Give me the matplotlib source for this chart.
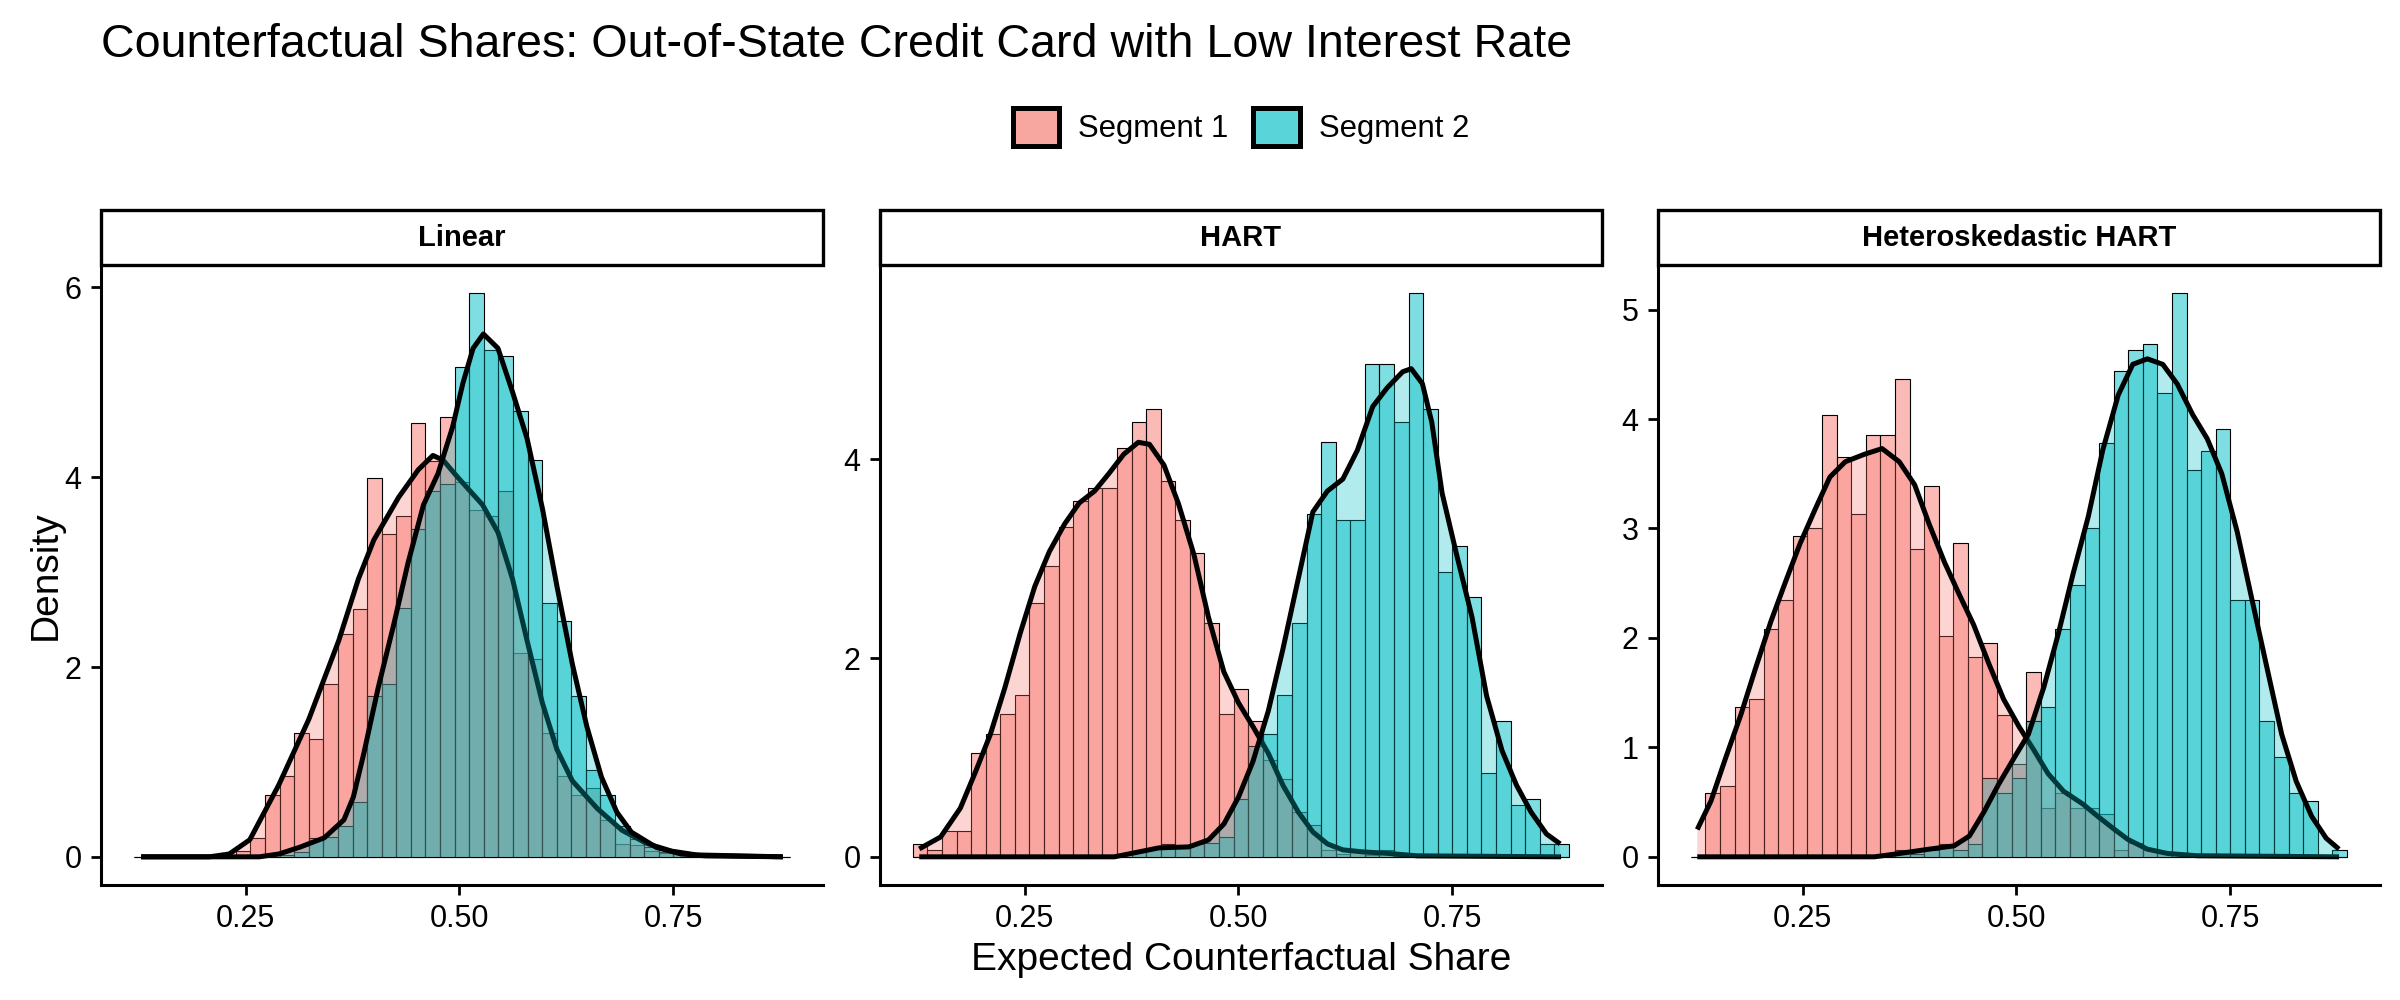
import numpy as np
import matplotlib.pyplot as plt
from matplotlib.patches import Rectangle, Patch
from matplotlib.colors import to_rgba

plt.rcParams['font.family'] = ['Liberation Sans', 'DejaVu Sans']

# histogram bins (shared x scale in all facets)
bin_start = 0.1195
bin_width = 0.01704
n_bins = 45

panels = ['Linear', 'HART', 'Heteroskedastic HART']
segments = ['Segment 1', 'Segment 2']

# bar heights (density) per bin
linear_seg1 = [0, 0, 0, 0, 0, 0, 0.02, 0.06, 0.2, 0.65, 0.85, 1.31, 1.24, 1.82, 2.35,
               2.61, 3.99, 3.40, 3.59, 4.57, 4.17, 4.63, 3.95, 3.66, 3.59, 3.85, 2.15,
               2.09, 1.31, 0.85, 0.65, 0.72, 0.39, 0.14, 0.12, 0.06, 0.04, 0.05, 0.02,
               0, 0, 0, 0, 0, 0]
linear_seg2 = [0, 0, 0, 0, 0, 0, 0, 0, 0, 0, 0.02, 0.05, 0.2, 0.21, 0.32, 0.58, 1.69,
               1.82, 2.62, 3.46, 3.86, 3.93, 5.16, 5.94, 5.34, 5.28, 4.70, 4.18, 2.68,
               2.48, 1.69, 0.91, 0.65, 0.32, 0.19, 0.1, 0.05, 0.03, 0.01, 0, 0, 0, 0, 0, 0]

hart_seg1 = [0.125, 0.07, 0.26, 0.26, 1.04, 1.24, 1.44, 1.63, 2.55, 2.93, 3.32, 3.58,
             3.71, 3.71, 4.11, 4.37, 4.50, 3.78, 3.39, 3.06, 2.35, 1.44, 1.69, 1.37,
             0.97, 0.78, 0.45, 0.32, 0.07, 0.03, 0.07, 0.02, 0.07, 0.01, 0, 0, 0, 0,
             0, 0, 0, 0, 0, 0, 0]
hart_seg2 = [0, 0, 0, 0, 0, 0, 0, 0, 0, 0, 0, 0, 0, 0, 0, 0.05, 0.08, 0.125, 0.09,
             0.125, 0.14, 0.2, 0.58, 1.11, 1.24, 1.63, 2.35, 3.45, 4.17, 3.39, 3.39,
             4.96, 4.96, 4.37, 5.67, 4.50, 2.87, 3.13, 2.61, 0.84, 1.37, 0.52, 0.58,
             0.125, 0.125]

hetero_seg1 = [0, 0.58, 0.65, 1.37, 1.44, 2.08, 2.35, 2.93, 3.0, 4.04, 3.65, 3.13, 3.85,
               3.85, 4.37, 2.81, 3.39, 2.02, 2.87, 1.83, 1.95, 1.30, 0.85, 1.69, 0.45,
               0.58, 0.45, 0.45, 0.39, 0.06, 0.13, 0.06, 0.04, 0, 0, 0, 0, 0, 0, 0, 0,
               0, 0, 0, 0]
hetero_seg2 = [0, 0, 0, 0, 0, 0, 0, 0, 0, 0, 0, 0, 0.02, 0.02, 0.06, 0.03, 0.06, 0.12,
               0.06, 0.12, 0.72, 0.58, 0.72, 1.24, 1.37, 2.08, 2.48, 3.0, 3.78, 4.44,
               4.63, 4.69, 4.24, 5.15, 3.53, 3.71, 3.91, 2.35, 2.35, 1.24, 0.91, 0.58,
               0.51, 0, 0.06]

# density curves (x, y)
linear_dens1_x = [0.128, 0.208, 0.231, 0.255, 0.289, 0.324, 0.359, 0.382, 0.400, 0.429,
                  0.452, 0.469, 0.481, 0.498, 0.527, 0.545, 0.562, 0.579, 0.597, 0.614,
                  0.632, 0.661, 0.690, 0.719, 0.748, 0.777, 0.878]
linear_dens1_y = [0, 0, 0.03, 0.18, 0.76, 1.45, 2.28, 2.93, 3.34, 3.79, 4.08, 4.23, 4.18,
                  4.0, 3.71, 3.42, 2.93, 2.28, 1.62, 1.13, 0.80, 0.51, 0.28, 0.14, 0.06,
                  0.02, 0]
linear_dens2_x = [0.128, 0.266, 0.289, 0.313, 0.342, 0.365, 0.376, 0.388, 0.405, 0.423,
                  0.440, 0.458, 0.475, 0.492, 0.504, 0.516, 0.528, 0.545, 0.562, 0.579,
                  0.597, 0.614, 0.632, 0.649, 0.666, 0.684, 0.701, 0.730, 0.759, 0.788,
                  0.878]
linear_dens2_y = [0, 0, 0.03, 0.10, 0.20, 0.39, 0.63, 1.08, 1.78, 2.44, 3.10, 3.71, 4.04,
                  4.53, 4.99, 5.36, 5.51, 5.36, 4.90, 4.41, 3.67, 2.85, 2.03, 1.37, 0.84,
                  0.47, 0.26, 0.10, 0.03, 0.01, 0]

hart_dens1_x = [0.127, 0.152, 0.175, 0.192, 0.210, 0.227, 0.245, 0.262, 0.279, 0.297,
                0.314, 0.332, 0.349, 0.366, 0.383, 0.396, 0.413, 0.430, 0.448, 0.465,
                0.483, 0.500, 0.517, 0.535, 0.552, 0.570, 0.587, 0.604, 0.622, 0.645,
                0.674, 0.709, 0.877]
hart_dens1_y = [0.08, 0.20, 0.49, 0.84, 1.23, 1.70, 2.25, 2.72, 3.07, 3.35, 3.56, 3.68,
                3.86, 4.05, 4.17, 4.15, 3.94, 3.55, 3.04, 2.41, 1.86, 1.55, 1.31, 1.04,
                0.72, 0.45, 0.25, 0.13, 0.07, 0.05, 0.035, 0.01, 0]
hart_dens2_x = [0.127, 0.355, 0.384, 0.407, 0.442, 0.465, 0.483, 0.500, 0.517, 0.535,
                0.552, 0.570, 0.587, 0.604, 0.622, 0.639, 0.657, 0.674, 0.692, 0.702,
                0.715, 0.726, 0.738, 0.755, 0.773, 0.790, 0.808, 0.825, 0.842, 0.860,
                0.876]
hart_dens2_y = [0, 0, 0.05, 0.09, 0.10, 0.17, 0.33, 0.60, 0.96, 1.47, 2.09, 2.80, 3.47,
                3.68, 3.80, 4.09, 4.53, 4.72, 4.88, 4.91, 4.76, 4.37, 3.66, 3.04, 2.41,
                1.62, 1.07, 0.72, 0.45, 0.23, 0.13]

hetero_dens1_x = [0.127, 0.143, 0.160, 0.178, 0.195, 0.213, 0.230, 0.247, 0.265, 0.282,
                  0.300, 0.323, 0.343, 0.363, 0.381, 0.398, 0.416, 0.433, 0.450, 0.468,
                  0.485, 0.503, 0.520, 0.537, 0.555, 0.578, 0.595, 0.613, 0.630, 0.653,
                  0.677, 0.711, 0.877]
hetero_dens1_y = [0.25, 0.51, 0.90, 1.30, 1.72, 2.15, 2.51, 2.86, 3.18, 3.47, 3.61, 3.68,
                  3.73, 3.61, 3.40, 3.04, 2.69, 2.40, 2.12, 1.76, 1.44, 1.19, 0.98, 0.76,
                  0.60, 0.48, 0.37, 0.26, 0.16, 0.07, 0.03, 0.01, 0]
hetero_dens2_x = [0.127, 0.334, 0.363, 0.398, 0.427, 0.445, 0.462, 0.479, 0.497, 0.514,
                  0.532, 0.549, 0.566, 0.584, 0.601, 0.619, 0.636, 0.653, 0.671, 0.688,
                  0.706, 0.723, 0.740, 0.758, 0.775, 0.793, 0.810, 0.827, 0.845, 0.862,
                  0.877]
hetero_dens2_y = [0, 0, 0.03, 0.07, 0.10, 0.19, 0.41, 0.66, 0.90, 1.12, 1.55, 2.04, 2.58,
                  3.11, 3.72, 4.22, 4.50, 4.55, 4.50, 4.32, 4.04, 3.82, 3.50, 2.97, 2.36,
                  1.72, 1.12, 0.69, 0.37, 0.17, 0.07]

hist_data = [(linear_seg1, linear_seg2), (hart_seg1, hart_seg2), (hetero_seg1, hetero_seg2)]
dens_data = [((linear_dens1_x, linear_dens1_y), (linear_dens2_x, linear_dens2_y)),
             ((hart_dens1_x, hart_dens1_y), (hart_dens2_x, hart_dens2_y)),
             ((hetero_dens1_x, hetero_dens1_y), (hetero_dens2_x, hetero_dens2_y))]
y_ticks = [[0, 2, 4, 6], [0, 2, 4], [0, 1, 2, 3, 4, 5]]

colors = ['#F8766D', '#00BFC4']
centers = bin_start + bin_width * (np.arange(n_bins) + 0.5)

fig = plt.figure(figsize=(12, 5), dpi=200)
lefts = [101, 880, 1658]

for i, name in enumerate(panels):
    ax = fig.add_axes([lefts[i] / 2400, 0.115, 722 / 2400, 0.62])

    # histograms
    for seg, col in zip(hist_data[i], colors):
        ax.bar(centers, seg, width=bin_width, facecolor=to_rgba(col, 0.5),
               edgecolor='black', linewidth=0.4, zorder=2)

    # densities
    for (dx, dy), col in zip(dens_data[i], colors):
        ax.fill_between(dx, dy, 0, facecolor=to_rgba(col, 0.3), linewidth=0, zorder=3)
        ax.plot(dx, dy, color='black', linewidth=1.8, zorder=3,
                solid_joinstyle='round', solid_capstyle='butt')

    ymax = max(max(hist_data[i][0]), max(hist_data[i][1]))
    ax.set_xlim(0.0811, 0.9249)
    ax.set_ylim(-0.05 * ymax, 1.05 * ymax)
    ax.set_xticks([0.25, 0.50, 0.75])
    ax.set_xticklabels(['0.25', '0.50', '0.75'])
    ax.set_yticks(y_ticks[i])
    ax.tick_params(labelsize=11, length=3.5, width=1.0, colors='black')

    for s in ['top', 'right']:
        ax.spines[s].set_visible(False)
    for s in ['left', 'bottom']:
        ax.spines[s].set_linewidth(1.1)

    # facet strip
    strip_h = 55 / 620
    ax.add_patch(Rectangle((0, 1.0), 1, strip_h, transform=ax.transAxes,
                           facecolor='white', edgecolor='black', linewidth=1.2,
                           clip_on=False))
    ax.text(0.5, 1 + strip_h / 2, name, transform=ax.transAxes, ha='center',
            va='center', fontsize=10.5, fontweight='bold')

fig.text(0.042, 0.955, 'Counterfactual Shares: Out-of-State Credit Card with Low Interest Rate',
         fontsize=16.8, ha='left', va='center')
fig.text(0.019, 0.425, 'Density', rotation=90, fontsize=14, ha='center', va='center')
fig.text(0.517, 0.04, 'Expected Counterfactual Share', fontsize=14, ha='center', va='center')

handles = [Patch(facecolor='#F8A6A0', edgecolor='black', linewidth=1.8),
           Patch(facecolor='#59D5D9', edgecolor='black', linewidth=1.8)]
fig.legend(handles, segments, loc='center', bbox_to_anchor=(0.517, 0.873), ncol=2,
           frameon=False, fontsize=11.2, handlelength=1.5, handleheight=1.5,
           handletextpad=0.6, columnspacing=0.8)

fig.savefig('out.png', dpi=200)
